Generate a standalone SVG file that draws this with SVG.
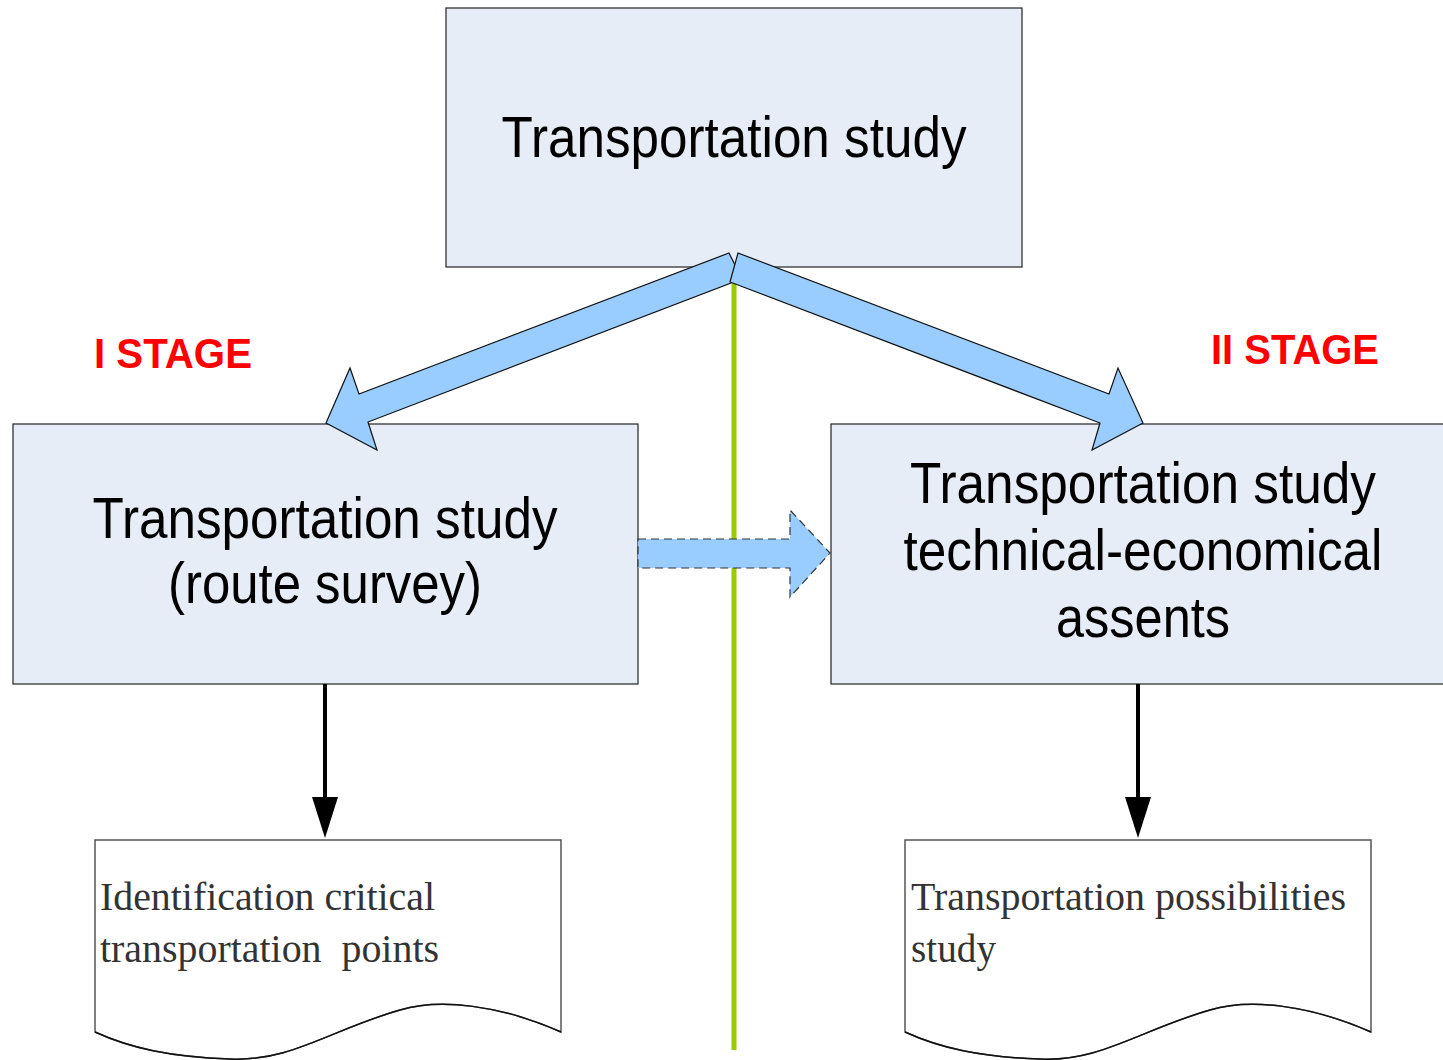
<svg xmlns="http://www.w3.org/2000/svg" width="1443" height="1060" viewBox="0 0 1443 1060">
<style>
.box{fill:#e6edf7;stroke:#222;stroke-width:1.2}
.doc{fill:#fff;stroke:#555;stroke-width:1.5}
.big{font-family:"Liberation Sans",Arial,sans-serif;font-size:58px;fill:#000}
.ser{font-family:"Liberation Serif","Times New Roman",serif;font-size:40px;fill:#333}
.stage{font-family:"Liberation Sans",Arial,sans-serif;font-size:42px;font-weight:bold;fill:#ff0000}
.barrow{fill:#99ccff;stroke:#111;stroke-width:1.2;stroke-linejoin:miter}
</style>
<rect width="1443" height="1060" fill="#fff"/>
<g id="top">
<rect class="box" x="446" y="8" width="576" height="259"/>
<text class="big" x="734" y="157" text-anchor="middle" textLength="465" lengthAdjust="spacingAndGlyphs">Transportation study</text>
</g>
<g id="left">
<rect class="box" x="13" y="424" width="625" height="260"/>
<text class="big" x="325" y="538" text-anchor="middle" textLength="465" lengthAdjust="spacingAndGlyphs">Transportation study</text>
<text class="big" x="325" y="603" text-anchor="middle" textLength="314" lengthAdjust="spacingAndGlyphs">(route survey)</text>
</g>
<g id="right">
<rect class="box" x="831" y="424" width="620" height="260"/>
<text class="big" x="1143" y="503" text-anchor="middle" textLength="466" lengthAdjust="spacingAndGlyphs">Transportation study</text>
<text class="big" x="1143" y="570" text-anchor="middle" textLength="479" lengthAdjust="spacingAndGlyphs">technical-economical</text>
<text class="big" x="1143" y="637" text-anchor="middle" textLength="174" lengthAdjust="spacingAndGlyphs">assents</text>
</g>
<g id="doc-left">
<path class="doc" d="M95 840 H561 V1032 C500 1005 440 998 400 1010 C330 1030 290 1062 230 1059 C170 1057 130 1048 95 1032 Z"/>
<path d="M561 1032 C500 1005 440 998 400 1010 C330 1030 290 1062 230 1059 C170 1057 130 1048 95 1032" fill="none" stroke="#111" stroke-width="1.5"/>
<text class="ser" x="100" y="910" textLength="335" lengthAdjust="spacingAndGlyphs">Identification critical</text>
<text class="ser" x="100" y="962" xml:space="preserve" textLength="339" lengthAdjust="spacingAndGlyphs">transportation  points</text>
</g>
<g id="doc-right">
<path class="doc" d="M905 840 H1371 V1032 C1310 1005 1250 998 1210 1010 C1140 1030 1100 1062 1040 1059 C980 1057 940 1048 905 1032 Z"/>
<path d="M1371 1032 C1310 1005 1250 998 1210 1010 C1140 1030 1100 1062 1040 1059 C980 1057 940 1048 905 1032" fill="none" stroke="#111" stroke-width="1.5"/>
<text class="ser" x="911" y="910" textLength="435" lengthAdjust="spacingAndGlyphs">Transportation possibilities</text>
<text class="ser" x="911" y="962" textLength="85" lengthAdjust="spacingAndGlyphs">study</text>
</g>
<g id="stage1"><text class="stage" x="94" y="368" textLength="158" lengthAdjust="spacingAndGlyphs">I STAGE</text></g>
<g id="stage2"><text class="stage" x="1211" y="364" textLength="168" lengthAdjust="spacingAndGlyphs">II STAGE</text></g>
<g id="connectors">
<line x1="734" y1="283" x2="734" y2="1050" stroke="#99cc00" stroke-width="5"/>
<polygon class="barrow" points="729,253 737,269 731,283 368,422 377,450 326,423 350,368 359,394"/>
<polygon class="barrow" points="738,253 1109,394 1118,368 1143,423 1092,450 1100,423 730,282"/>
<polygon points="638,539 790,539 790,510 830,553 790,597 790,568 638,568" fill="#99ccff" stroke="#333" stroke-width="1.2" stroke-dasharray="8,5"/>
<line x1="325" y1="684" x2="325" y2="800" stroke="#000" stroke-width="4"/>
<polygon points="312,797 338,797 325,838" fill="#000"/>
<line x1="1138" y1="684" x2="1138" y2="800" stroke="#000" stroke-width="4"/>
<polygon points="1125,797 1151,797 1138,838" fill="#000"/>
</g>
</svg>
